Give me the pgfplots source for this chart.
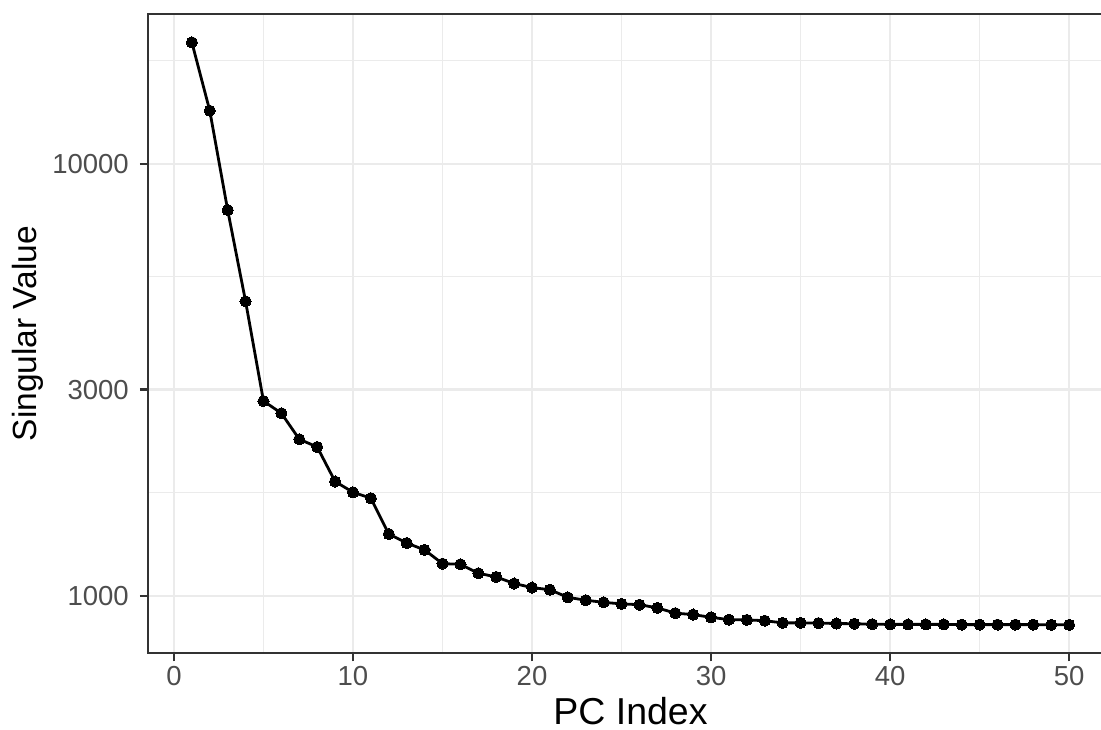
\documentclass[border=0pt]{standalone}
\usepackage{fontspec}
\setmainfont{Liberation Sans}
\usepackage{pgfplots}
\usepackage{pgfplotstable}
\pgfplotsset{compat=1.18}
\definecolor{gridgray}{HTML}{EBEBEB}
\definecolor{bordergray}{HTML}{333333}
\definecolor{ticktext}{HTML}{4D4D4D}

\pgfplotstableread{
pc sv
1 19098
2 13264
3 7812
4 4802
5 2822
6 2644
7 2302
8 2209
9 1838
10 1735
11 1681
12 1389
13 1324
14 1276
15 1186
16 1182
17 1127
18 1105
19 1067
20 1044
21 1032
22 991
23 976
24 965
25 957
26 953
27 937
28 911
29 904
30 891
31 880
32 879
33 875
34 865
35 865
36 864
37 862
38 861
39 859
40 858
41 858
42 858
43 858
44 857
45 857
46 857
47 857
48 857
49 856
50 856
}\svtable

\begin{document}
\begin{tikzpicture}
\begin{axis}[
  scale only axis, width=965pt, height=639.3pt,
  at={(0,0)}, anchor=south west,
  xmin=-1.45, xmax=52.45,
  ymode=log, ymin=735.6, ymax=22210,
  xtick={0,10,20,30,40,50}, xticklabels={0,10,20,30,40,50},
  minor xtick={5,15,25,35,45},
  ytick={1000,3000,10000}, yticklabels={1000,3000,10000},
  minor ytick={1732.05,5477.23,17320.5},
  grid=both,
  major grid style={gridgray, line width=2.2pt},
  minor grid style={gridgray, line width=1.1pt},
  minor tick length=0pt, major tick length=8pt,
  tick align=outside, tick pos=left,
  tick style={bordergray, line width=2.2pt},
  axis line style={bordergray, line width=2.2pt},
  ticklabel style={font=\fontsize{27.5}{27.5}\selectfont, text=ticktext, inner sep=0pt},
  xticklabel style={anchor=north, yshift=-4.7pt},
  yticklabel style={anchor=east, xshift=-11pt},
  xlabel={PC Index},
  xlabel style={font=\fontsize{37.5}{37.5}\selectfont, at={(axis description cs:0.5,-0.11216)}, anchor=base, inner sep=0pt},
  ylabel={Singular Value},
  ylabel style={font=\fontsize{33.5}{33.5}\selectfont, at={(axis description cs:-0.11554,0.5)}, anchor=base, inner sep=0pt},
]
\addplot[black, line width=2.8pt, mark=*, mark size=5.6pt, mark options={fill=black, draw=black, line width=0pt}] table[x=pc, y=sv] {\svtable};
\end{axis}
\pgfresetboundingbox
\path[use as bounding box] (-148pt,-76.7pt) rectangle (953pt,653.3pt);
\end{tikzpicture}
\end{document}
